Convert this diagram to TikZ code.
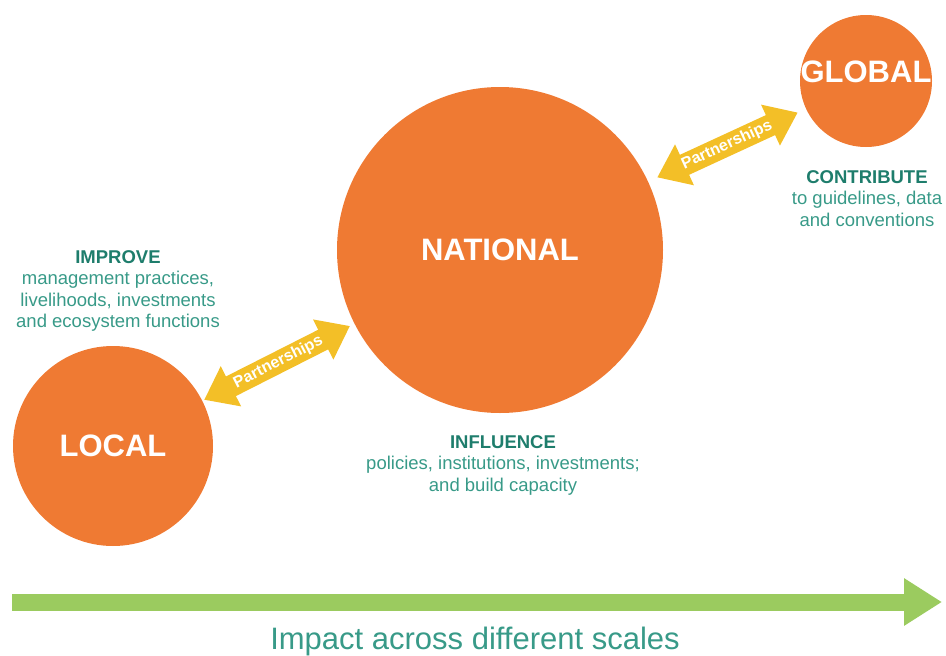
\documentclass[tikz,border=0pt]{standalone}
\usepackage{fontspec}
\setmainfont{Liberation Sans}
\usetikzlibrary{arrows.meta}

\definecolor{hubOrange}{HTML}{EF7A33}
\definecolor{partnerYellow}{HTML}{F3BF27}
\definecolor{impactGreen}{HTML}{9BCB5F}
\definecolor{titleTeal}{HTML}{1E7D6C}
\definecolor{bodyTeal}{HTML}{389A88}

\tikzset{
  hub/.style={circle,fill=hubOrange,inner sep=0pt,text=white,
    font=\fontsize{31}{31}\selectfont\bfseries},
  hub name/.style={inner sep=0pt,text=white,font=\fontsize{31}{31}\selectfont\bfseries},
  partner/.style={draw=partnerYellow,line width=22pt,
    {Triangle[width=43pt,length=30pt]}-{Triangle[width=43pt,length=30pt]}},
  partner label/.style={text=white,font=\fontsize{16}{16}\selectfont\bfseries},
  aim/.style={anchor=north,inner sep=0pt,align=center,text=bodyTeal,
    font=\fontsize{18.5}{21.5}\selectfont},
  impact/.style={draw=impactGreen,line width=17pt,
    -{Triangle[width=45pt,length=38pt]}},
  impact label/.style={text=bodyTeal,font=\fontsize{31}{31}\selectfont}
}

\begin{document}
\begin{tikzpicture}[x=1pt,y=-1pt]
    \useasboundingbox (0,0) rectangle (946,656);
    \node[hub,minimum size=200pt] (local) at (113,446) {LOCAL};
    \node[hub,minimum size=326pt] (national) at (500,250) {NATIONAL};
    \node[hub,minimum size=132pt] (global) at (866,81) {};
    \node[hub name] (global name) at ([yshift=9pt]global.center) {GLOBAL};
    \draw[partner,shorten <=2pt,shorten >=5pt] (local) -- (national)
      node [midway,sloped,partner label] {Partnerships};
    \draw[partner,shorten <=10pt,shorten >=9pt] (national) -- (global)
      node [midway,sloped,partner label] {Partnerships};
    \node[aim] (improve) at (118,250)
      {\textcolor{titleTeal}{\bfseries IMPROVE}\\management practices,\\livelihoods, investments\\and ecosystem functions};
    \node[aim] (influence) at (503,435)
      {\textcolor{titleTeal}{\bfseries INFLUENCE}\\policies, institutions, investments;\\and build capacity};
    \node[aim] (contribute) at (867,170)
      {\textcolor{titleTeal}{\bfseries CONTRIBUTE}\\to guidelines, data\\and conventions};
    \coordinate (impact start) at (12,602);
    \coordinate (impact end) at (942,602);
    \draw[impact] (impact start) -- (impact end);
    \node[impact label] (impact text) at (475,641) {Impact across different scales};
  \end{tikzpicture}
\end{document}
